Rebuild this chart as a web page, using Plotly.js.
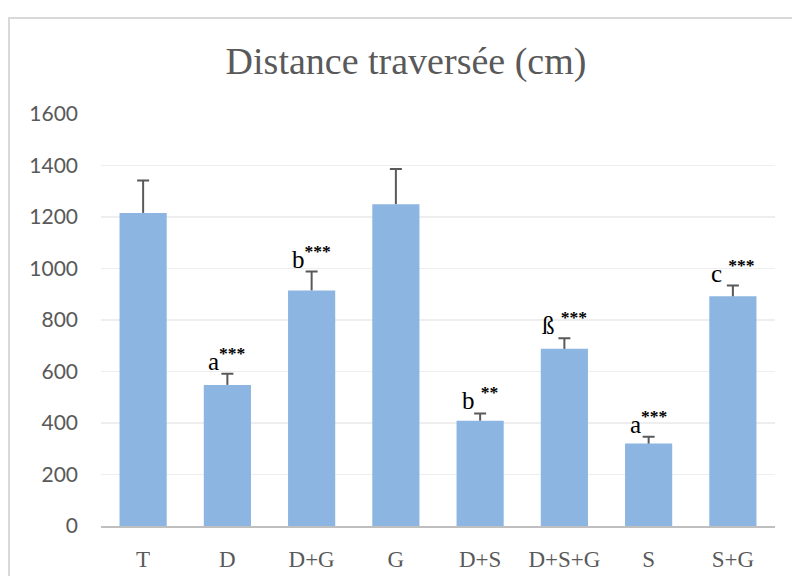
<!DOCTYPE html>
<html>
<head>
<meta charset="utf-8">
<script src="https://cdn.plot.ly/plotly-3.0.1.min.js"></script>
<style>html,body{margin:0;padding:0;background:#fff;}#chart{width:792px;height:576px;}</style>
</head>
<body>
<div id="chart"></div>
<script>
var categories = ["T", "D", "D+G", "G", "D+S", "D+S+G", "S", "S+G"];
var means = [1216, 548, 915, 1250, 409, 688, 320, 892];
var errors = [126, 43, 73, 136, 28, 41, 27, 42];
var letters = ["", "a", "b", "", "b ", "ß ", "a", "c "];
var stars = ["", "***", "***", "", "**", "***", "***", "***"];
var yTicks = [0, 200, 400, 600, 800, 1000, 1200, 1400, 1600];

var zeros = means.map(function(){return 0;});
var tops = means.map(function(m, i){return m + errors[i];});

var bars = {
  type: "bar", x: categories, y: means,
  marker: {color: "#8cb6e1", line: {width: 0}},
  hoverinfo: "none"
};
var stems = {
  type: "scatter", mode: "none", x: categories, y: means,
  error_y: {type: "data", array: errors, arrayminus: zeros, symmetric: false,
            color: "#595959", thickness: 2, width: 0},
  hoverinfo: "none"
};
var caps = {
  type: "scatter", mode: "none", x: categories, y: tops,
  error_y: {type: "data", array: zeros, arrayminus: zeros, symmetric: false,
            color: "#595959", thickness: 2, width: 6},
  hoverinfo: "none"
};

var annotations = [];
for (var i = 0; i < categories.length; i++) {
  if (!stars[i]) continue;
  annotations.push({
    x: categories[i], y: tops[i], xref: "x", yref: "y",
    text: letters[i] + "<sup><b>" + stars[i] + "</b></sup>",
    showarrow: false, yanchor: "bottom", xanchor: "center", yshift: -3,
    font: {family: "Liberation Serif", size: 25, color: "#000"}
  });
}

var layout = {
  width: 792, height: 576,
  margin: {l: 101, r: 17, t: 114, b: 50},
  paper_bgcolor: "#fff", plot_bgcolor: "#fff",
  showlegend: false,
  bargap: 0.44,
  title: {text: "Distance traversée (cm)", font: {family: "Liberation Serif", size: 38, color: "#595959"},
          xref: "container", x: 406/792, xanchor: "center", yref: "container", y: 1 - 61/576, yanchor: "middle"},
  xaxis: {tickfont: {family: "Liberation Serif", size: 23, color: "#595959"}, showline: true, linecolor: "#bfbfbf",
          linewidth: 2, ticks: "", ticklabelstandoff: 11, showgrid: false, fixedrange: true},
  yaxis: {range: [0, 1600], tickvals: yTicks, ticktext: yTicks.map(String),
          tickfont: {family: "Lato", size: 21, color: "#595959"}, gridcolor: "#eeeeee", gridwidth: 1.3,
          zeroline: false, showline: false, ticks: "", ticklabelstandoff: 22, fixedrange: true},
  shapes: [{type: "rect", xref: "paper", yref: "paper", x0: (9 - 101) / 674, x1: (805 - 101) / 674,
            y0: (526 - 590) / 412, y1: (526 - 18) / 412, line: {color: "#d9d9d9", width: 2}, fillcolor: "rgba(0,0,0,0)", layer: "below"}],
  annotations: annotations
};

Plotly.newPlot("chart", [bars, stems, caps], layout, {staticPlot: true, displayModeBar: false});
</script>
</body>
</html>
